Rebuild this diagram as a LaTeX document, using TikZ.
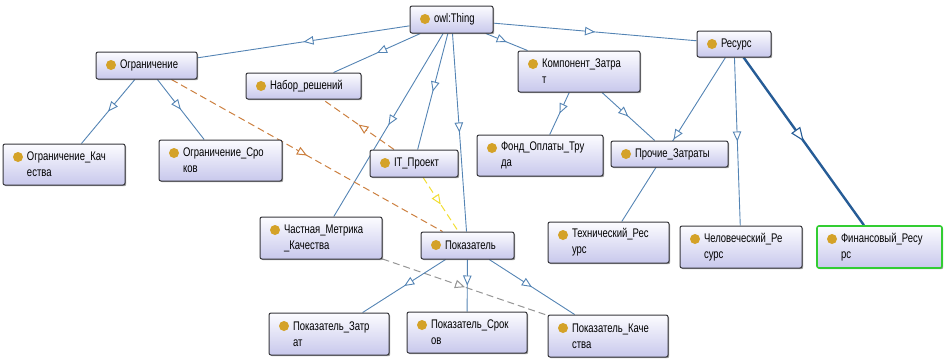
\documentclass[tikz,border=0pt]{standalone}
\usepackage{fontspec}
\newfontfamily\nodefont[FakeStretch=0.76]{Liberation Sans}
\usetikzlibrary{arrows.meta,decorations.markings,shadows}
\definecolor{edgeblue}{RGB}{84,132,180}
\definecolor{thickblue}{RGB}{38,92,150}
\definecolor{dorange}{RGB}{204,128,64}
\definecolor{dyellow}{RGB}{242,222,50}
\definecolor{dgray}{RGB}{150,150,150}
\definecolor{dotc}{RGB}{212,162,40}
\definecolor{boxbot}{RGB}{200,200,236}
\definecolor{boxtop}{RGB}{252,252,255}
\definecolor{boxline}{RGB}{55,55,60}
\definecolor{selgreen}{RGB}{50,205,50}
\pgfdeclarelayer{bg}
\pgfsetlayers{bg,main}
\begin{document}
\begin{tikzpicture}[x=1pt,y=-1pt,
  cls/.style 2 args={draw=boxline, line width=1pt, rounded corners=2pt,
    top color=boxtop, bottom color=boxbot,
    minimum width=#1pt, minimum height=#2pt, inner sep=0pt,
    text width=#1pt-24pt, align=left,
    font=\nodefont\fontsize{12.5}{16}\selectfont,
    execute at begin node={\leftskip=12pt\relax},
    drop shadow={shadow xshift=1.2pt, shadow yshift=-1.2pt, opacity=0.55, fill=black!70},
    path picture={\fill[dotc] ([xshift=15pt,yshift=-13pt]path picture bounding box.north west) circle (5pt);}},
  midarr/.style={postaction={decorate}, decoration={markings,
    mark=at position 0.5 with {\arrow{Triangle[open, fill=white, length=10pt, width=8.5pt]}}}},
  midarrbig/.style={postaction={decorate}, decoration={markings,
    mark=at position 0.5 with {\arrow{Triangle[open, fill=white, length=14pt, width=11pt, line width=1.1pt]}}}},
  isa/.style={draw=edgeblue, line width=0.9pt, midarr},
  isathick/.style={draw=thickblue, line width=2.4pt, midarrbig},
  prop/.style={draw=#1, line width=1pt, dash pattern=on 7pt off 4pt, midarr}
]
\useasboundingbox (0,0) rectangle (945,360);

\node[cls={83}{27}] (thing) at (451.5,19.5) {owl:Thing};
\node[cls={101}{27}] (ogr) at (146.5,65.5) {Ограничение};
\node[cls={115}{26}] (nabor) at (303.5,86) {Набор\_решений};
\node[cls={122}{41}] (ogrk) at (64,164.5) {Ограничение\_Кач\\ества};
\node[cls={123}{41}] (ogrs) at (220.5,160.5) {Ограничение\_Сро\\ков};
\node[cls={88}{27}] (it) at (414,163.5) {IT\_Проект};
\node[cls={122}{41}] (komp) at (579,71.5) {Компонент\_Затра\\т};
\node[cls={74}{26}] (res) at (734,44) {Ресурс};
\node[cls={126}{41}] (fond) at (540,155.5) {Фонд\_Оплаты\_Тру\\да};
\node[cls={117}{26}] (proch) at (669.5,154) {Прочие\_Затраты};
\node[cls={122}{42}] (chast) at (321,238) {Частная\_Метрика\\\_Качества};
\node[cls={93}{27}] (pok) at (467.5,245.5) {Показатель};
\node[cls={120}{42}] (pokz) at (329,334) {Показатель\_Затр\\ат};
\node[cls={120}{41}] (poks) at (467,332.5) {Показатель\_Срок\\ов};
\node[cls={120}{42}] (pokk) at (608,336) {Показатель\_Каче\\ства};
\node[cls={121}{41}] (tech) at (608.5,242.5) {Технический\_Рес\\урс};
\node[cls={122}{42}] (chel) at (741,247) {Человеческий\_Ре\\сурс};
\node[cls={125}{42}, draw=selgreen, line width=1.6pt] (fin) at (879.5,247) {Финансовый\_Ресу\\рс};

\begin{pgfonlayer}{bg}
\draw[isa] (thing) -- (ogr);
\draw[isa] (thing) -- (nabor);
\draw[isa] (thing) -- (chast);
\draw[isa] (thing) -- (it);
\draw[isa] (thing) -- (pok);
\draw[isa] (thing) -- (komp);
\draw[isa] (thing) -- (res);
\draw[isa] (ogr) -- (ogrk);
\draw[isa] (ogr) -- (ogrs);
\draw[prop=dorange] (ogr) -- (pok);
\draw[prop=dorange] (it) -- (nabor);
\draw[prop=dyellow] (it) -- (pok);
\draw[prop=dgray] (chast) -- (pokk);
\draw[isa] (pok) -- (pokz);
\draw[isa] (pok) -- (poks);
\draw[isa] (pok) -- (pokk);
\draw[isa] (komp) -- (fond);
\draw[isa] (komp) -- (proch);
\draw[isa] (res) -- (tech);
\draw[isa] (res) -- (chel);
\draw[isathick] (res) -- (fin);
\end{pgfonlayer}
\end{tikzpicture}
\end{document}
